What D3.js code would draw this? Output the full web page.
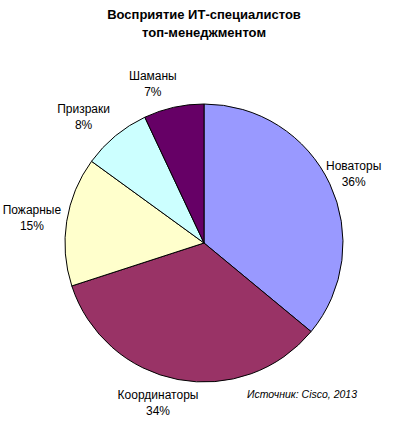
<!DOCTYPE html>
<html>
<head>
<meta charset="utf-8">
<script src="https://cdn.jsdelivr.net/npm/d3@7"></script>
<style>
  body { margin: 0; background: #fff; }
  text { font-family: "Liberation Sans", Arial, sans-serif; fill: #000; }
</style>
</head>
<body>
<svg id="chart" width="400" height="422"></svg>
<script>
// data, clockwise from 12 o'clock
var categories = ["Новаторы", "Координаторы", "Пожарные", "Призраки", "Шаманы"];
var shares = [36, 34, 15, 8, 7];
var colors = ["#9999ff", "#993366", "#ffffcc", "#ccffff", "#660066"];
var titleLines = ["Восприятие ИТ-специалистов", "топ-менеджментом"];
var sourceNote = "Источник: Cisco, 2013";

var svg = d3.select("#chart");
var cx = 204, cy = 243, radius = 139;

// title
svg.append("g")
  .selectAll("text")
  .data(titleLines).enter()
  .append("text")
  .attr("x", 204)
  .attr("y", function(d, i) { return 19 + i * 18; })
  .attr("text-anchor", "middle")
  .style("font-size", "13px")
  .style("font-weight", "bold")
  .text(function(d) { return d; });

var rows = categories.map(function(c, i) { return { name: c, value: shares[i], color: colors[i] }; });

var pie = d3.pie()
  .sort(null)
  .value(function(d) { return d.value; });

var arc = d3.arc().innerRadius(0).outerRadius(radius);

var g = svg.append("g")
  .attr("transform", "translate(" + cx + "," + cy + ")");

g.selectAll("path")
  .data(pie(rows)).enter()
  .append("path")
  .attr("d", arc)
  .attr("fill", function(d) { return d.data.color; })
  .attr("stroke", "#000")
  .attr("stroke-width", 1);

// labels: name + percent, outside the pie on a slightly flattened ring
var labels = g.selectAll("g.label")
  .data(pie(rows)).enter()
  .append("g")
  .attr("class", "label")
  .attr("transform", function(d) {
    var mid = (d.startAngle + d.endAngle) / 2;
    // excel pushes top/bottom labels a bit to the left
    var x = 172 * Math.sin(mid) - 14 * Math.abs(Math.cos(mid));
    var y = -163 * Math.cos(mid);
    return "translate(" + x + "," + y + ")";
  });

labels.append("text")
  .attr("y", -4)
  .attr("text-anchor", "middle")
  .style("font-size", "12px")
  .text(function(d) { return d.data.name; });

labels.append("text")
  .attr("y", 12)
  .attr("text-anchor", "middle")
  .style("font-size", "12px")
  .text(function(d) { return d.data.value + "%"; });

// source
svg.append("text")
  .attr("x", 302)
  .attr("y", 398)
  .attr("text-anchor", "middle")
  .style("font-size", "10.5px")
  .style("font-style", "italic")
  .text(sourceNote);
</script>
</body>
</html>
